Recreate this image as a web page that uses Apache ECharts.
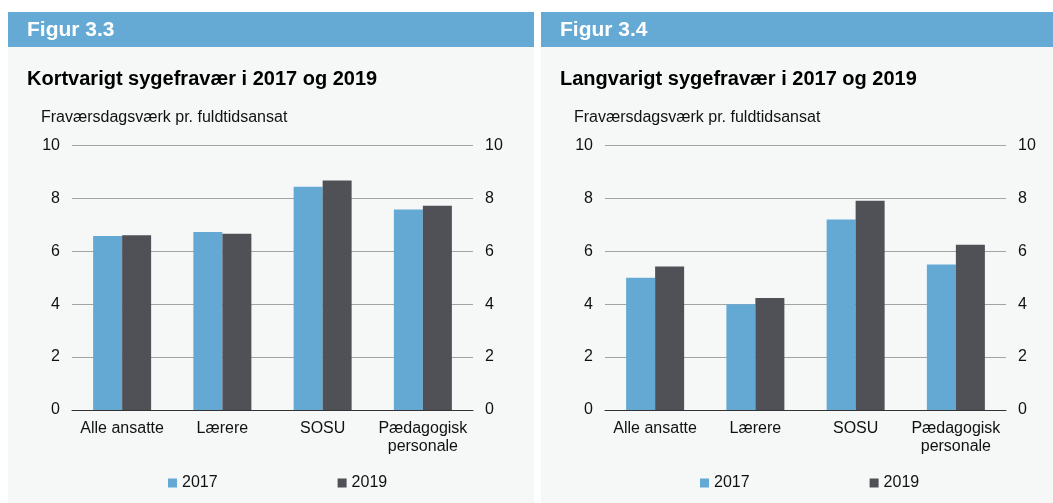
<!DOCTYPE html>
<html>
<head>
<meta charset="utf-8">
<script src="https://cdn.jsdelivr.net/npm/echarts@6/dist/echarts.min.js"></script>
<style>
  html, body { margin: 0; padding: 0; background: #fff; }
  #chart { width: 1053px; height: 503px; }
</style>
</head>
<body>
<div id="chart"></div>
<script>
  const categories = ['Alle ansatte', 'Lærere', 'SOSU', 'Pædagogisk\npersonale']
  const yearNames = ['2017', '2019']
  // Figur 3.3 – kortvarigt
  const short2017 = [6.58, 6.73, 8.44, 7.58]
  const short2019 = [6.6, 6.66, 8.67, 7.72]
  // Figur 3.4 – langvarigt
  const long2017 = [5.0, 4.0, 7.2, 5.5]
  const long2019 = [5.42, 4.23, 7.91, 6.25]
  const yTicks = { min: 0, max: 10, interval: 2 }

  const blue = '#64a9d4'
  const dark = '#4f5157'
  const font = 'Liberation Sans, Arial, Helvetica, sans-serif'

  const myChart = echarts.init(document.getElementById('chart'))

  const panels = [
    { x: 8, w: 526, fig: 'Figur 3.3', title: 'Kortvarigt sygefravær i 2017 og 2019' },
    { x: 541, w: 512, fig: 'Figur 3.4', title: 'Langvarigt sygefravær i 2017 og 2019' },
  ]

  const graphic = []
  panels.forEach(p => {
    graphic.push({ type: 'rect', shape: { x: p.x, y: 12, width: p.w, height: 491 }, style: { fill: '#f6f8f8' }, silent: true, z: -10 })
    graphic.push({ type: 'rect', shape: { x: p.x, y: 12, width: p.w, height: 35 }, style: { fill: '#64aad5' }, silent: true, z: -9 })
    graphic.push({ type: 'text', x: p.x + 19, y: 30, style: { text: p.fig, fill: '#fff', font: 'bold 21px ' + font, verticalAlign: 'middle' } })
    graphic.push({ type: 'text', x: p.x + 19, y: 79, style: { text: p.title, fill: '#000', font: 'bold 20px ' + font, verticalAlign: 'middle' } })
    graphic.push({ type: 'text', x: p.x + 33, y: 118, style: { text: 'Fraværsdagsværk pr. fuldtidsansat', fill: '#111', font: '16px ' + font, verticalAlign: 'middle' } })
  })

  const yAxisBase = (gridIndex, position) => ({
    type: 'value',
    gridIndex: gridIndex,
    position: position,
    min: yTicks.min,
    max: yTicks.max,
    interval: yTicks.interval,
    axisLine: { show: false },
    axisTick: { show: false },
    axisLabel: { color: '#111', fontSize: 16, fontFamily: font, margin: 12 },
    splitLine: { show: position === 'left', lineStyle: { color: '#a3a3a3', width: 1 } },
  })

  const xAxisBase = gridIndex => ({
    type: 'category',
    gridIndex: gridIndex,
    data: categories,
    axisLine: { lineStyle: { color: '#333', width: 1 } },
    axisTick: { length: 4, lineStyle: { color: '#333' } },
    axisLabel: { color: '#111', fontSize: 16, fontFamily: font, margin: 10, lineHeight: 18, interval: 0 },
  })

  const barSeries = (name, data, color, idx) => ({
    name: name,
    type: 'bar',
    xAxisIndex: idx,
    yAxisIndex: idx * 2,
    barWidth: 29,
    barGap: '0%',
    data: data,
    itemStyle: { color: color },
    emphasis: { disabled: true },
  })

  const legendBase = left => ({
    data: yearNames,
    left: left,
    top: 470,
    icon: 'rect',
    itemWidth: 9,
    itemHeight: 9,
    itemGap: 120,
    textStyle: { color: '#111', fontSize: 16, fontFamily: font },
  })

  const option = {
    animation: false,
    textStyle: { fontFamily: font },
    graphic: graphic,
    grid: [
      { left: 72, top: 145.4, width: 401, height: 264.6 },
      { left: 605, top: 145.4, width: 401, height: 264.6 },
    ],
    xAxis: [xAxisBase(0), xAxisBase(1)],
    yAxis: [yAxisBase(0, 'left'), yAxisBase(0, 'right'), yAxisBase(1, 'left'), yAxisBase(1, 'right')],
    legend: [legendBase(163), legendBase(695)],
    series: [
      barSeries(yearNames[0], short2017, blue, 0),
      barSeries(yearNames[1], short2019, dark, 0),
      barSeries(yearNames[0], long2017, blue, 1),
      barSeries(yearNames[1], long2019, dark, 1),
    ],
  }

  option && myChart.setOption(option)
</script>
</body>
</html>
